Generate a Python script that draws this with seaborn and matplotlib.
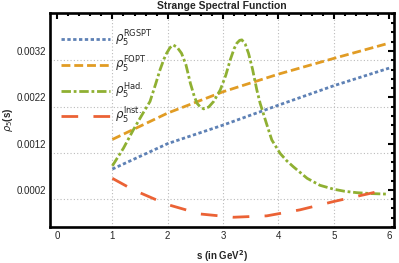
import matplotlib
matplotlib.use("Agg")
import matplotlib.pyplot as plt
from matplotlib.ticker import MultipleLocator, FixedLocator
import seaborn as sns
import pandas as pd

# values
s_rgspt = [1.0, 2.0, 3.0, 4.0, 5.0, 6.0]
rho_rgspt = [0.00065, 0.0012, 0.0016, 0.00203, 0.00245, 0.00283]

s_fopt = [1.0, 2.0, 3.0, 4.0, 5.0, 6.0]
rho_fopt = [0.00129, 0.00186, 0.00232, 0.0027, 0.00304, 0.00337]

s_had = [1.0, 1.2, 1.38, 1.55, 1.68, 1.78, 1.86, 1.93, 1.98, 2.04, 2.10, 2.17, 2.25,
         2.33, 2.41, 2.48, 2.53, 2.59, 2.65, 2.74, 2.83, 2.95, 3.05, 3.13, 3.20, 3.25,
         3.30, 3.34, 3.40, 3.46, 3.53, 3.61, 3.67, 3.78, 3.88, 4.03, 4.15, 4.27,
         4.52, 4.75, 5.0, 5.2, 5.42, 5.7, 5.96]
rho_had = [0.00072, 0.0011, 0.00150, 0.00185, 0.00211, 0.00248, 0.00279, 0.00302, 0.00315,
           0.00327, 0.00333, 0.00328, 0.00315, 0.00290, 0.00250, 0.00222, 0.00207, 0.00199,
           0.00195, 0.00199, 0.00211, 0.00236, 0.00268, 0.00301, 0.00325, 0.00337,
           0.00343, 0.00344, 0.00335, 0.00315, 0.00282, 0.00236, 0.00207, 0.00165,
           0.00128, 0.00099, 0.00083, 0.00070, 0.00045, 0.00030, 0.000215, 0.00017,
           0.00014, 0.00012, 0.00011]

s_inst = [1.0, 1.38, 1.98, 2.59, 3.19, 3.79, 4.39, 5.0, 5.6, 6.0]
rho_inst = [0.00045, 0.0002, -0.00011, -0.00032, -0.00039, -0.00036, -0.00023,
            -0.00005, 0.00011, 0.00022]

labels = [r"$\rho_5^{\rm RGSPT}$", r"$\rho_5^{\rm FOPT}$",
          r"$\rho_5^{\rm Had.}$", r"$\rho_5^{\rm Inst.}$"]
colors = ["#5E81B5", "#E19C24", "#8FB032", "#EB6235"]
dashes = [(1.2, 0.9), (3.2, 1.4), (3.4, 1.0, 1.0, 1.0), (6.0, 5.5)]

sns.set_style("white")
plt.rcParams["font.family"] = ["Liberation Sans", "DejaVu Sans"]
plt.rcParams["mathtext.fontset"] = "dejavusans"

fig = plt.figure(figsize=(3.99, 2.63), dpi=100)
ax = fig.add_axes([0.1253, 0.137, 0.861, 0.8135])

series = [(s_rgspt, rho_rgspt), (s_fopt, rho_fopt), (s_had, rho_had), (s_inst, rho_inst)]
for (xs, ys), lab, c, d in zip(series, labels, colors, dashes):
    df = pd.DataFrame({"s": xs, "rho": ys})
    sns.lineplot(data=df, x="s", y="rho", ax=ax, color=c, lw=2.0, label=lab)
    ax.lines[-1].set_dashes(d)

ax.set_xlim(-0.127, 6.08)
ax.set_ylim(-0.0006, 0.00402)

ax.xaxis.set_major_locator(MultipleLocator(1))
ax.xaxis.set_minor_locator(MultipleLocator(0.2))
ax.yaxis.set_major_locator(FixedLocator([0.0002, 0.0012, 0.0022, 0.0032]))
ax.yaxis.set_minor_locator(MultipleLocator(0.0002))
ax.set_yticklabels(["0.0002", "0.0012", "0.0022", "0.0032"])

ax.tick_params(which="both", direction="in", top=True, right=True, labelsize=7,
               width=1.5, color="black", pad=3)
ax.tick_params(which="major", length=4.5)
ax.tick_params(which="minor", length=2.5)

for sp in ax.spines.values():
    sp.set_linewidth(1.9)
    sp.set_color("black")

# dotted grid
for gx in [1, 2, 3, 4, 5]:
    ax.axvline(gx, color="#BBBBBB", lw=0.8, ls=(0, (1, 2)), zorder=0)
for gy in [0.0, 0.001, 0.002, 0.003]:
    ax.axhline(gy, color="#BBBBBB", lw=0.8, ls=(0, (1, 2)), zorder=0)

ax.set_title("Strange Spectral Function", fontsize=7.5, fontweight="bold", pad=3)
ax.set_xlabel(r"s (in GeV$^\mathbf{2}$)", fontsize=7, fontweight="bold", labelpad=5)
ax.set_ylabel(r"$\rho_5$(s)", fontsize=7, fontweight="bold", labelpad=1)

ax.legend(loc="upper left", bbox_to_anchor=(0.0, 0.975), frameon=False,
          fontsize=8.5, handlelength=4.2, handletextpad=0.4, labelspacing=0.5)

fig.savefig("out.png", dpi=100)
